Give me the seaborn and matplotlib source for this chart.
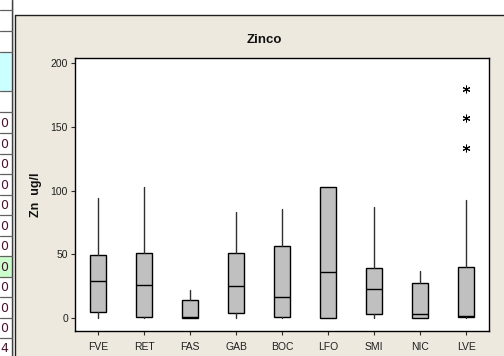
import matplotlib
matplotlib.use("Agg")
import matplotlib.pyplot as plt
import seaborn as sns
from matplotlib.patches import Rectangle
from matplotlib.lines import Line2D

# ---- data ----
categories = ["FVE", "RET", "FAS", "GAB", "BOC", "LFO", "SMI", "NIC", "LVE"]
whislo = [0.0, 0.0, 0.0, 0.0, 0.0, 0.0, 0.0, 0.0, 0.0]
q1 = [5.0, 0.8, 0.0, 4.2, 0.5, 0.0, 2.9, 0.0, 0.8]
med = [29.3, 26.0, 0.5, 25.1, 16.5, 35.9, 23.0, 2.9, 1.6]
q3 = [49.2, 51.3, 14.1, 51.3, 56.5, 102.6, 39.5, 27.7, 40.0]
whishi = [94.0, 103.0, 22.0, 83.0, 85.6, 102.6, 87.0, 37.2, 92.7]
outliers = [[], [], [], [], [], [], [], [], [133.7, 157.3, 179.6]]
yticks = [0, 50, 100, 150, 200]
title = "Zinco"
ylabel = "Zn  ug/l"

# spreadsheet fragment at the left edge
sheet_lines = [10, 30.5, 52, 91, 112, 133, 153.5, 174, 194.5, 215, 235.5, 256, 276.5, 297, 317.5, 338]
sheet_values = ["0", "0", "0", "0", "0", "0", "0", "0", "0", "0", "0", "4"]

sns.set_theme(style="white")
plt.rcParams["font.family"] = ["Liberation Sans", "DejaVu Sans"]

W, H = 504, 356
fig = plt.figure(figsize=(W / 100, H / 100), dpi=100)
fig.patch.set_facecolor("white")


def fx(x):
    return x / W


def fy(y):
    return 1 - y / H


# panel background
beige = "#EDE9DF"
fig.patches.append(Rectangle((fx(14.5), 0), 1 - fx(14.5), fy(15), transform=fig.transFigure,
                             facecolor=beige, edgecolor="none", zorder=-2))
fig.lines.append(Line2D([fx(14.5), fx(14.5)], [fy(15), 0], transform=fig.transFigure, color="#202020", lw=1.0, zorder=-1))
fig.lines.append(Line2D([fx(14.5), 1], [fy(15), fy(15)], transform=fig.transFigure, color="#202020", lw=1.0, zorder=-1))
# gap between sheet and panel
fig.patches.append(Rectangle((fx(12), 0), fx(2), 1, transform=fig.transFigure,
                             facecolor="#DCDCDC", edgecolor="none", zorder=-2))
fig.lines.append(Line2D([fx(11.5), fx(11.5)], [0, 1], transform=fig.transFigure, color="#404040", lw=1.0, zorder=-1))
# coloured cells
fig.patches.append(Rectangle((0, fy(91)), fx(11.5), fy(52) - fy(91), transform=fig.transFigure,
                             facecolor="#CCFFFF", edgecolor="none", zorder=-2))
fig.patches.append(Rectangle((0, fy(276.5)), fx(11.5), fy(256) - fy(276.5), transform=fig.transFigure,
                             facecolor="#CCFFCC", edgecolor="none", zorder=-2))
for yl in sheet_lines:
    fig.lines.append(Line2D([0, fx(11.5)], [fy(yl), fy(yl)], transform=fig.transFigure, color="#606060", lw=0.9, zorder=-1))
row_tops = sheet_lines[4:] + [356]
for i, v in enumerate(sheet_values):
    yc = (row_tops[i] + row_tops[i + 1]) / 2 if i + 1 < len(row_tops) else 348
    fig.text(fx(8), fy(yc + 1), v, ha="right", va="center", fontsize=9, color="#4a1030",
             family=["DejaVu Sans"])

# axes
ax = fig.add_axes([fx(75), fy(331), fx(489) - fx(75), fy(58) - fy(331)])
ax.set_facecolor("white")
ax.set_zorder(1)

stats = []
for i, c in enumerate(categories):
    stats.append(dict(label=c, whislo=whislo[i], q1=q1[i], med=med[i], q3=q3[i],
                      whishi=whishi[i], fliers=outliers[i]))

ax.bxp(stats, positions=range(len(categories)), widths=0.33, patch_artist=True,
       showcaps=False,
       boxprops=dict(facecolor="#C0C0C0", edgecolor="black", linewidth=1.0),
       medianprops=dict(color="black", linewidth=1.0),
       whiskerprops=dict(color="#303030", linewidth=1.0),
       flierprops=dict(marker=(6, 2, 0), markersize=5.5, markeredgecolor="black",
                       markerfacecolor="black", markeredgewidth=0.75, linestyle="none"))

ax.set_xlim(-0.5, len(categories) - 0.5)
ax.set_ylim(-10.2, 204)
ax.set_yticks(yticks)
ax.set_xticks(range(len(categories)))
ax.set_xticklabels(categories)
for s in ax.spines.values():
    s.set_visible(True)
    s.set_color("black")
    s.set_linewidth(1.0)
ax.tick_params(axis="both", direction="out", length=3, width=0.8, color="#303030",
               labelsize=7.5, labelcolor="#202020", pad=2, left=True, bottom=True)
ax.tick_params(axis="x", pad=5)
ax.grid(False)

fig.text(fx(264), fy(40), title, ha="center", va="center", fontsize=9.5, fontweight="bold", color="#101010")
fig.text(fx(35.5), fy(194.5), ylabel, ha="center", va="center", rotation=90, fontsize=9,
         fontweight="bold", color="#101010")

fig.savefig("out.png", dpi=100, facecolor=fig.get_facecolor())
